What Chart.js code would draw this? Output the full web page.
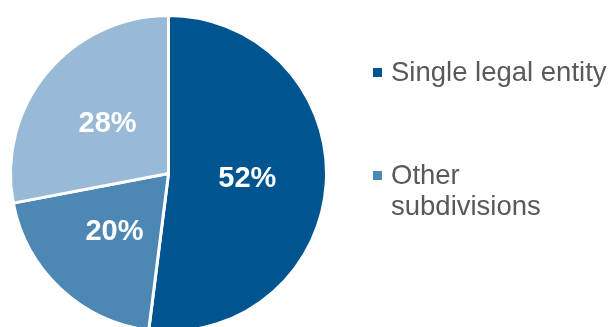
<!DOCTYPE html>
<html>
<head>
<meta charset="utf-8">
<script src="https://cdn.jsdelivr.net/npm/chart.js@4"></script>
<style>
    html, body { margin: 0; padding: 0; background: #fff; overflow: hidden; }
    #wrap { width: 613px; height: 345px; position: relative; }
</style>
</head>
<body>
<div id="wrap"><canvas id="pieChart"></canvas></div>
<script>
// Chart data
const categories = ["Single legal entity", "Other subdivisions", "Other"];
const legendLines = [["Single legal entity"], ["Other", "subdivisions"]];
const shares = [52, 20, 28];
const sliceColors = ["#00548F", "#4D88B5", "#98BAD6"];

// Percent labels in the middle of each slice
const sliceLabels = {
    id: "sliceLabels",
    afterDatasetsDraw(chart) {
        const ctx = chart.ctx;
        const meta = chart.getDatasetMeta(0);
        ctx.save();
        ctx.fillStyle = "#ffffff";
        ctx.font = "bold 29px 'Liberation Sans', Arial, sans-serif";
        ctx.textAlign = "center";
        ctx.textBaseline = "middle";
        meta.data.forEach((arc, i) => {
            const pos = arc.tooltipPosition();
            ctx.fillText(shares[i] + "%", pos.x, pos.y + 1);
        });
        ctx.restore();
    }
};

// Legend drawn on the right, only the first two entries
const sideLegend = {
    id: "sideLegend",
    afterDraw(chart) {
        const ctx = chart.ctx;
        const startY = [72, 175];
        ctx.save();
        ctx.font = "27.5px 'Liberation Sans', Arial, sans-serif";
        ctx.textBaseline = "middle";
        ctx.textAlign = "left";
        legendLines.forEach((lines, i) => {
            ctx.fillStyle = sliceColors[i];
            ctx.fillRect(373, startY[i] - 4, 9, 9);
            ctx.fillStyle = "#595959";
            lines.forEach((line, j) => {
                ctx.fillText(line, 391, startY[i] + 1 + j * 31);
            });
        });
        ctx.restore();
    }
};

const ctx = document.getElementById("pieChart").getContext("2d");
const pieChart = new Chart(ctx, {
    type: "pie",
    data: {
        labels: categories,
        datasets: [{
            data: shares,
            backgroundColor: sliceColors,
            borderColor: "#ffffff",
            borderWidth: 3
        }]
    },
    options: {
        responsive: true,
        maintainAspectRatio: false,
        animation: false,
        layout: {
            padding: { top: 14, bottom: 12, left: 9, right: 285 }
        },
        plugins: {
            legend: { display: false },
            tooltip: { enabled: false }
        }
    },
    plugins: [sliceLabels, sideLegend]
});
</script>
</body>
</html>
